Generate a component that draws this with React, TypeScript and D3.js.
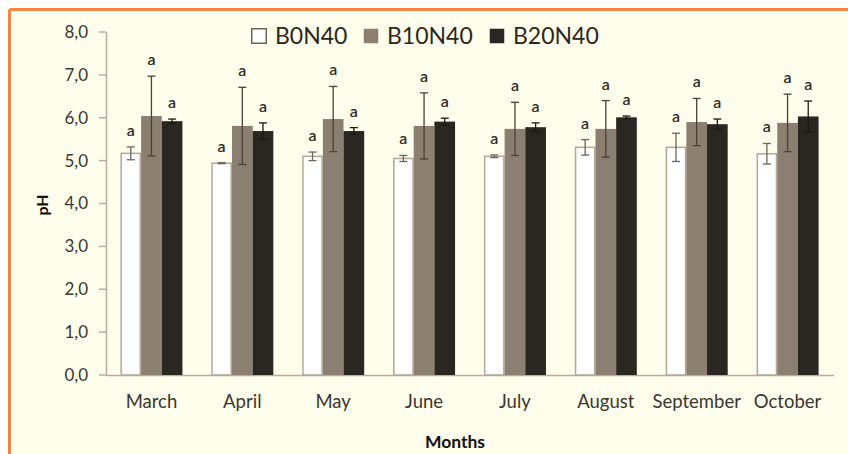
import * as d3 from "d3";

const months = ["March", "April", "May", "June", "July", "August", "September", "October"];
const seriesNames = ["B0N40", "B10N40", "B20N40"];
const b0n40 = [5.17, 4.94, 5.1, 5.05, 5.1, 5.31, 5.31, 5.16];
const b0n40Err = [0.15, 0.01, 0.1, 0.07, 0.03, 0.18, 0.33, 0.24];
const b10n40 = [6.04, 5.81, 5.97, 5.81, 5.74, 5.74, 5.9, 5.88];
const b10n40Err = [0.93, 0.9, 0.76, 0.77, 0.62, 0.66, 0.55, 0.67];
const b20n40 = [5.92, 5.69, 5.69, 5.91, 5.78, 6.01, 5.85, 6.03];
const b20n40Err = [0.05, 0.19, 0.08, 0.08, 0.1, 0.03, 0.12, 0.36];
const letters = ["a", "a", "a"];
const yTicks = [0, 1, 2, 3, 4, 5, 6, 7, 8];

const fills = ["#ffffff", "#8a7f71", "#2a2722"];
const strokes = ["#b3a797", "#8a7f71", "#2a2722"];
const errColors = ["#6e6458", "#4a4238", "#1a1815"];

const W = 848;
const H = 454;
const font = "Lato, 'Open Sans', sans-serif";

export default function App() {
  const x0 = d3.scaleBand().domain(months).range([106, 833]).paddingInner(0).paddingOuter(0);
  const groupW = 62;
  const x1 = d3
    .scaleBand()
    .domain(seriesNames)
    .range([(x0.bandwidth() - groupW) / 2, (x0.bandwidth() + groupW) / 2]);
  const y = d3.scaleLinear().domain([0, 8]).range([375, 32]);

  const values = [b0n40, b10n40, b20n40];
  const errs = [b0n40Err, b10n40Err, b20n40Err];

  return (
    <svg
      width={W}
      height={H}
      style={{ position: "absolute", left: 0, top: 0, background: "#ffffff" }}
    >
      <rect x={10} y={10} width={W - 10} height={H - 10} fill="#fffdeb" />
      <line x1={9.5} x2={W} y1={9.5} y2={9.5} stroke="#f7843e" strokeWidth={3} />
      <line x1={9.5} x2={9.5} y1={9.5} y2={H} stroke="#f7843e" strokeWidth={3} />

      {/* y axis */}
      <line x1={106.5} x2={106.5} y1={y(8)} y2={y(0)} stroke="#b8ad9f" strokeWidth={1.5} />
      {yTicks.map((t) => (
        <g key={t}>
          <line x1={99} x2={106} y1={y(t)} y2={y(t)} stroke="#b8ad9f" strokeWidth={1.5} />
          <text
            x={88}
            y={y(t)}
            dy="0.35em"
            textAnchor="end"
            fontFamily={font}
            fontSize={17}
            fill="#3a3631"
          >
            {t.toFixed(1).replace(".", ",")}
          </text>
        </g>
      ))}
      <line x1={106} x2={834} y1={y(0) + 0.5} y2={y(0) + 0.5} stroke="#b8ad9f" strokeWidth={1.5} />

      {/* bars */}
      {months.map((m, i) => (
        <g key={m} transform={`translate(${x0(m)},0)`}>
          {seriesNames.map((s, k) => {
            const v = values[k][i];
            const e = errs[k][i];
            const bx = x1(s)!;
            const bw = x1.bandwidth();
            const cx = bx + bw / 2;
            return (
              <g key={s}>
                <rect
                  x={bx + (k === 0 ? 0.75 : 0)}
                  y={y(v)}
                  width={bw - (k === 0 ? 1.5 : 0)}
                  height={y(0) - y(v)}
                  fill={fills[k]}
                  stroke={strokes[k]}
                  strokeWidth={k === 0 ? 1.5 : 0}
                />
                <line x1={cx} x2={cx} y1={y(v + e)} y2={y(v - e)} stroke={errColors[k]} strokeWidth={1.3} />
                <line x1={cx - 4} x2={cx + 4} y1={y(v + e)} y2={y(v + e)} stroke={errColors[k]} strokeWidth={1.3} />
                <line x1={cx - 4} x2={cx + 4} y1={y(v - e)} y2={y(v - e)} stroke={errColors[k]} strokeWidth={1.3} />
                <text
                  x={cx}
                  y={y(v + e) - 11}
                  textAnchor="middle"
                  fontFamily={font}
                  fontSize={16}
                  fontWeight={600}
                  fill="#2e2b27"
                >
                  {letters[k]}
                </text>
              </g>
            );
          })}
          <text
            x={x0.bandwidth() / 2}
            y={402}
            dy="0.35em"
            textAnchor="middle"
            fontFamily={font}
            fontSize={18.5}
            fill="#3a3631"
          >
            {m}
          </text>
        </g>
      ))}

      {/* axis titles */}
      <text
        transform="translate(42,205) rotate(-90)"
        textAnchor="middle"
        dy="0.35em"
        fontFamily={font}
        fontSize={16}
        fontWeight={700}
        fill="#111"
      >
        pH
      </text>
      <text x={455} y={442} dy="0.35em" textAnchor="middle" fontFamily={font} fontSize={17.5} fontWeight={700} fill="#111">
        Months
      </text>

      {/* legend */}
      {seriesNames.map((s, k) => {
        const lx = [251, 363, 489][k];
        return (
          <g key={s}>
            <rect
              x={lx + 0.75}
              y={28.75}
              width={14.5}
              height={14.5}
              fill={fills[k]}
              stroke={k === 0 ? "#6e6458" : strokes[k]}
              strokeWidth={k === 0 ? 1.5 : 0}
            />
            <text x={lx + 24} y={44} fontFamily={font} fontSize={23} fill="#2a2722">
              {s}
            </text>
          </g>
        );
      })}
    </svg>
  );
}
